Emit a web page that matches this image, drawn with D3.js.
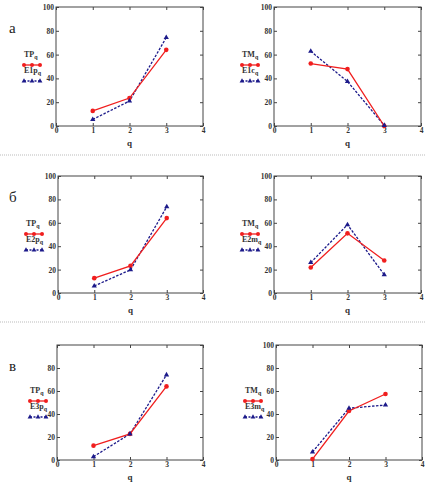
<!DOCTYPE html>
<html><head><meta charset="utf-8">
<script src="https://cdn.jsdelivr.net/npm/d3@7/dist/d3.min.js"></script>
<style>body{margin:0;background:#fff}svg{display:block}</style>
</head><body>
<script>
const qValues = [1, 2, 3];
const xTicks = [0, 1, 2, 3, 4];
const yTicks = [0, 20, 40, 60, 80, 100];
const rowLetters = ["а", "б", "в"];
const seriesNames = [["TP", "E1p"], ["TM", "E1c"], ["TP", "E2p"], ["TM", "E2m"], ["TP", "E3p"], ["TM", "E3m"]];
const tpA = [12.7, 23.5, 64];
const e1p = [5.5, 21, 74.3];
const tmA = [52.5, 47.8, 0];
const e1c = [62.8, 37.4, 0.5];
const tpB = [12.7, 23.2, 64];
const e2p = [6, 19.8, 73.7];
const tmB = [21.8, 51, 27.8];
const e2m = [26, 58.4, 15.6];
const tpC = [12.5, 22.7, 64];
const e3p = [2.9, 22.7, 74];
const tmC = [0.8, 42.6, 57.4];
const e3m = [7, 45, 47.8];

const W = 426, H = 486;
const svg = d3.select("body").append("svg").attr("width", W).attr("height", H);

const panels = [
  {l: 56, r: 203, t: 7, b: 126, red: tpA, blue: e1p, names: seriesNames[0], legX: 24, legY: 57, letter: 0},
  {l: 274, r: 421, t: 7, b: 126, red: tmA, blue: e1c, names: seriesNames[1], legX: 242, legY: 57},
  {l: 58, r: 203, t: 176, b: 293, red: tpB, blue: e2p, names: seriesNames[2], legX: 26, legY: 226, letter: 1},
  {l: 274, r: 421, t: 176, b: 293, red: tmB, blue: e2m, names: seriesNames[3], legX: 242, legY: 226},
  {l: 57, r: 203, t: 345, b: 460, red: tpC, blue: e3p, names: seriesNames[4], legX: 30, legY: 393, letter: 2, hideTop: true},
  {l: 276, r: 422, t: 345, b: 460, red: tmC, blue: e3m, names: seriesNames[5], legX: 245, legY: 393}
];

// separators
[155, 322].forEach(y => svg.append("line").attr("x1", 0).attr("x2", W).attr("y1", y).attr("y2", y)
  .attr("stroke", "#bbb").attr("stroke-width", 1).attr("stroke-dasharray", "1,1"));

const RED = "#f01e1e", BLUE = "#1c1a8a";
const font = "Liberation Serif, Times New Roman, serif";

function tri(g, x, y, s) {
  g.append("path").attr("d", d3.symbol(d3.symbolTriangle, s)()).attr("transform", `translate(${x},${y})`).attr("fill", BLUE);
}

panels.forEach((p, i) => {
  const x = d3.scaleLinear().domain([0, 4]).range([p.l, p.r]);
  const y = d3.scaleLinear().domain([0, 100]).range([p.b, p.t]);
  const g = svg.append("g");
  // frame
  g.append("rect").attr("x", p.l).attr("y", p.t).attr("width", p.r - p.l).attr("height", p.b - p.t)
    .attr("fill", "none").attr("stroke", "#444").attr("stroke-width", 1);
  // axes
  g.append("g").attr("transform", `translate(0,${p.b})`)
    .call(d3.axisBottom(x).tickValues(xTicks).tickSize(-3).tickPadding(2).tickFormat(d3.format("d")));
  g.append("g").attr("transform", `translate(${p.l},0)`)
    .call(d3.axisLeft(y).tickValues(yTicks).tickSize(-3).tickPadding(2).tickFormat(d => (p.hideTop && d === 100) ? "" : d));
  g.append("g").attr("transform", `translate(0,${p.t})`)
    .call(d3.axisTop(x).tickValues(xTicks).tickSize(-3).tickFormat(""));
  g.append("g").attr("transform", `translate(${p.r},0)`)
    .call(d3.axisRight(y).tickValues(yTicks).tickSize(-3).tickFormat(""));
  g.selectAll(".domain").remove();
  g.selectAll(".tick line").attr("stroke", "#444");
  g.selectAll(".tick text").attr("font-family", font).attr("font-size", 7.5).attr("font-weight", "bold").attr("fill", "#333");
  // x label
  g.append("text").attr("x", (p.l + p.r) / 2).attr("y", p.b + 20).attr("text-anchor", "middle")
    .attr("font-family", font).attr("font-size", 9).attr("font-weight", "bold").attr("fill", "#333").text("q");
  // lines
  const line = d3.line().x((d, k) => x(qValues[k])).y(d => y(d));
  g.append("path").attr("d", line(p.blue)).attr("fill", "none").attr("stroke", BLUE).attr("stroke-width", 1.3).attr("stroke-dasharray", "2.5,1.5");
  g.append("path").attr("d", line(p.red)).attr("fill", "none").attr("stroke", RED).attr("stroke-width", 1.3);
  p.red.forEach((d, k) => g.append("circle").attr("cx", x(qValues[k])).attr("cy", y(d)).attr("r", 2.3).attr("fill", RED));
  p.blue.forEach((d, k) => tri(g, x(qValues[k]), y(d), 12));
  // legend
  const lg = g.append("g").attr("font-family", font).attr("font-weight", "bold").attr("fill", "#333");
  const t1 = lg.append("text").attr("x", p.legX).attr("y", p.legY).attr("font-size", 8);
  t1.append("tspan").text(p.names[0]);
  t1.append("tspan").attr("font-size", 6).attr("dy", 2).text("q");
  lg.append("line").attr("x1", p.legX).attr("x2", p.legX + 16).attr("y1", p.legY + 8).attr("y2", p.legY + 8).attr("stroke", RED).attr("stroke-width", 1.3);
  [0, 8, 16].forEach(o => lg.append("circle").attr("cx", p.legX + o).attr("cy", p.legY + 8).attr("r", 2).attr("fill", RED));
  const t2 = lg.append("text").attr("x", p.legX).attr("y", p.legY + 16).attr("font-size", 8);
  t2.append("tspan").text(p.names[1]);
  t2.append("tspan").attr("font-size", 6).attr("dy", 2).text("q");
  lg.append("line").attr("x1", p.legX).attr("x2", p.legX + 16).attr("y1", p.legY + 24).attr("y2", p.legY + 24).attr("stroke", BLUE).attr("stroke-width", 1.3).attr("stroke-dasharray", "2,1.5");
  [0, 8, 16].forEach(o => tri(lg, p.legX + o, p.legY + 24, 10));
  if (p.letter !== undefined) {
    svg.append("text").attr("x", 9).attr("y", p.t + 26).attr("font-family", font).attr("font-size", 15).attr("fill", "#222").text(rowLetters[p.letter]);
  }
});
</script>
</body></html>
